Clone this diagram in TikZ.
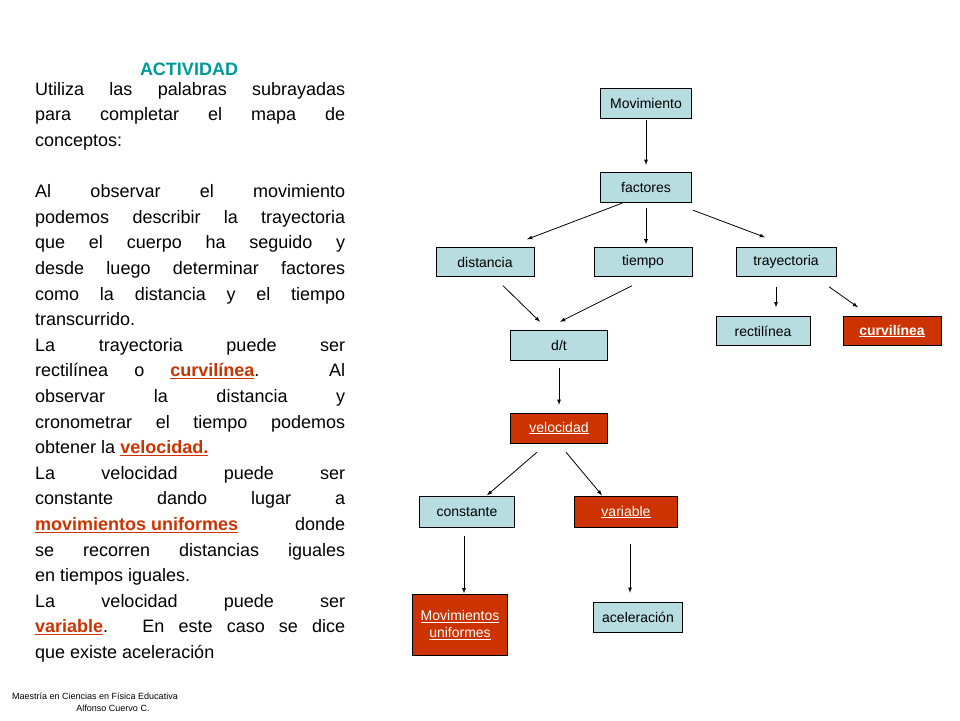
\documentclass[tikz,border=0pt]{standalone}
\usepackage{fontspec}
\setmainfont{Liberation Sans}
\usetikzlibrary{calc}
\definecolor{lb}{RGB}{183,221,224}
\definecolor{rd}{RGB}{204,51,0}
\definecolor{tl}{RGB}{0,153,153}
\newcommand{\rw}[1]{\textcolor{rd}{\textbf{\underline{#1}}}}
\begin{document}
\begin{tikzpicture}[x=1pt,y=-1pt,
  cb/.style={draw=black,fill=lb,minimum width=#1,minimum height=30pt,inner sep=0pt,font=\fontsize{14}{16}\selectfont},
  cb/.default=97pt,
  rb/.style={draw=black,fill=rd,text=white,minimum width=#1,minimum height=30pt,inner sep=0pt,font=\fontsize{14}{17}\selectfont},
  rb/.default=97pt,
  ar/.style={-latex,thick=false,line width=0.8pt}]
\useasboundingbox (0,0) rectangle (960,720);
\node[font=\bfseries\fontsize{18}{20}\selectfont,text=tl] (title) at (189,69) {ACTIVIDAD};
\node[anchor=north west,inner sep=0pt,text width=310pt,align=justify,font=\fontsize{18}{25.6}\selectfont] (body) at (35,82) {%
Utiliza las palabras subrayadas\linebreak para completar el mapa de\linebreak conceptos:\par\vspace{25.6pt}
Al observar el movimiento\linebreak podemos describir la trayectoria\linebreak que el cuerpo ha seguido y\linebreak desde luego determinar factores\linebreak como la distancia y el tiempo\linebreak transcurrido.\par
La trayectoria puede ser\linebreak rectilínea o \rw{curvilínea}. Al\linebreak observar la distancia y\linebreak cronometrar el tiempo podemos\linebreak obtener la \rw{velocidad.}\par
La velocidad puede ser\linebreak constante dando lugar a\linebreak \rw{movimientos uniformes} donde\linebreak se recorren distancias iguales\linebreak en tiempos iguales.\par
La velocidad puede ser\linebreak \rw{variable}. En este caso se dice\linebreak que existe aceleración\par};
\node[anchor=west,inner sep=0pt,font=\fontsize{9}{10}\selectfont] (f1) at (12,696) {Maestría en Ciencias en Física Educativa};
\node[inner sep=0pt,font=\fontsize{9}{10}\selectfont] (f2) at (113,708) {Alfonso Cuervo C.};

\node[cb=91pt] (mov) at (646,103) {Movimiento};
\node[cb=91pt] (fac) at (646,187) {factores};
\node[cb=98pt,minimum height=29pt] (dis) at (485,262) {distancia};
\node[cb=98pt,minimum height=29pt] (tie) at (643,262) {tiempo};
\node[cb=100pt,minimum height=29pt] (tra) at (786,262) {trayectoria};
\node[cb=94pt,minimum height=29pt] (rec) at (763,331) {rectilínea};
\node[rb=98pt,minimum height=29pt,font=\bfseries\fontsize{14}{17}\selectfont] (cur) at (892,331) {\underline{curvilínea}};
\node[cb] (dt) at (559,345) {d/t};
\node[rb] (vel) at (559,428) {\underline{velocidad}};
\node[cb=95pt,minimum height=31pt] (con) at (467,512) {constante};
\node[rb=103pt,minimum height=31pt] (var) at (626,512) {\underline{variable}};
\node[rb=95pt,minimum height=61pt,align=center] (mu) at (460,625) {\underline{Movimientos}\\\underline{uniformes}};
\node[cb=89pt] (ace) at (638,617) {aceleración};

\draw[ar] ($(mov.south)+(0,2)$) -- ($(fac.north)+(0,-7)$);
\draw[ar] ($(fac.south)+(-24,1)$) -- ($(dis.north)+(42,-8)$);
\draw[ar] ($(fac.south)+(0,6)$) -- ($(tie.north)+(3,-3)$);
\draw[ar] ($(fac.south)+(47,8)$) -- ($(tra.north)+(-21,-10)$);
\draw[ar] ($(dis.south)+(18,9)$) -- ($(dt.north)+(-19,-8)$);
\draw[ar] ($(tie.south)+(-11,9)$) -- ($(dt.north)+(1,-8)$);
\draw[ar] ($(tra.south)+(-10,10)$) -- ($(rec.north)+(13,-9)$);
\draw[ar] ($(tra.south)+(43,10)$) -- ($(cur.north)+(-34,-9)$);
\draw[ar] ($(dt.south)+(0,8)$) -- ($(vel.north)+(0,-8)$);
\draw[ar] ($(vel.south)+(-22,9)$) -- ($(con.north)+(20,-1)$);
\draw[ar] ($(vel.south)+(7,9)$) -- ($(var.north)+(-24,-1)$);
\draw[ar] ($(con.south)+(-3,8)$) -- ($(mu.north)+(4,-1)$);
\draw[ar] ($(var.south)+(4,16)$) -- ($(ace.north)+(-8,-9)$);
\end{tikzpicture}
\end{document}
